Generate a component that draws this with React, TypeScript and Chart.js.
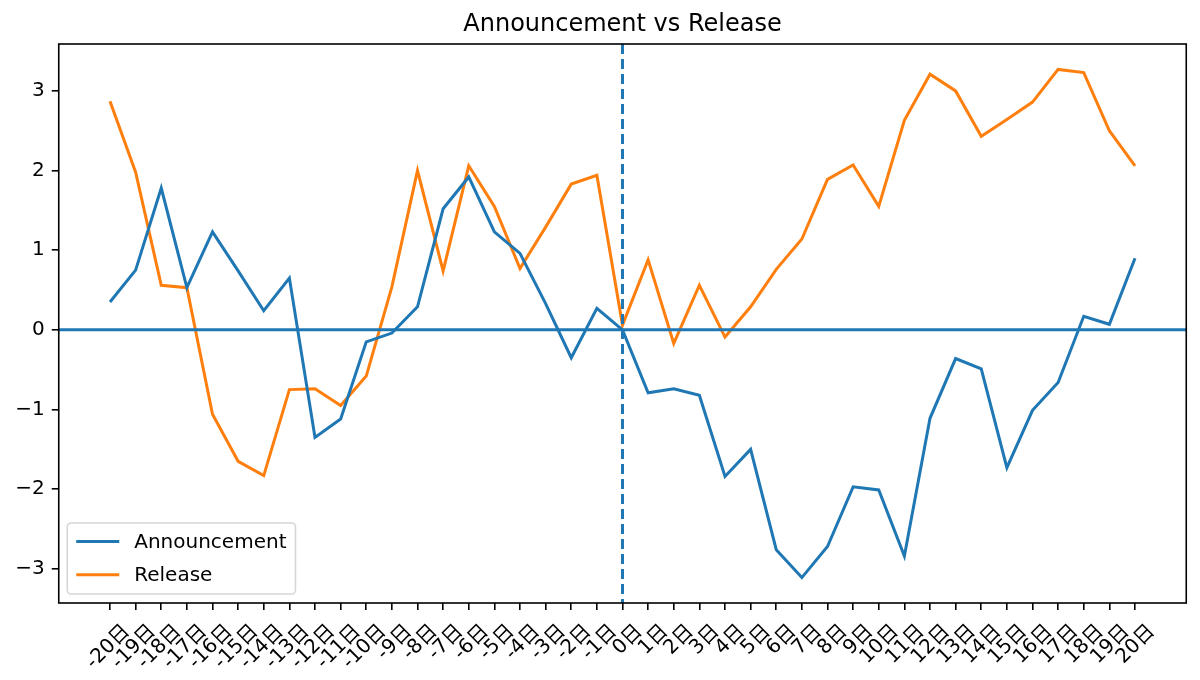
import {useEffect, useRef} from "react";
import {Chart, registerables} from "chart.js";

Chart.register(...registerables)

const days = [-20, -19, -18, -17, -16, -15, -14, -13, -12, -11, -10, -9, -8, -7, -6, -5, -4, -3, -2, -1,
  0, 1, 2, 3, 4, 5, 6, 7, 8, 9, 10, 11, 12, 13, 14, 15, 16, 17, 18, 19, 20]
const dayLabels = days.map(d => `${d}日`)
const yTicks = [-3, -2, -1, 0, 1, 2, 3]

const announcement = [0.35, 0.75, 1.78, 0.53, 1.23, 0.74, 0.24, 0.65, -1.35, -1.12,
  -0.15, -0.04, 0.29, 1.52, 1.92, 1.23, 0.96, 0.33, -0.35, 0.27,
  0.0,
  -0.79, -0.74, -0.82, -1.84, -1.50, -2.76, -3.11, -2.72, -1.97, -2.01,
  -2.84, -1.11, -0.36, -0.49, -1.73, -1.01, -0.66, 0.17, 0.07, 0.90]

const release = [2.87, 1.98, 0.56, 0.53, -1.06, -1.65, -1.83, -0.75, -0.74, -0.95,
  -0.58, 0.54, 2.00, 0.74, 2.06, 1.55, 0.77, 1.29, 1.83, 1.94,
  0.06,
  0.88, -0.17, 0.56, -0.09, 0.29, 0.76, 1.14, 1.89, 2.07, 1.55,
  2.63, 3.21, 3.00, 2.43, 2.64, 2.86, 3.27, 3.23, 2.50, 2.06]

const BLUE = "#1f77b4"
const ORANGE = "#ff7f0e"
const FONT = "'DejaVu Sans', 'Noto Sans CJK SC', sans-serif"

// matplotlib style 5% margins
const all = [...announcement, ...release]
const yLo = Math.min(...all), yHi = Math.max(...all)
const yPad = (yHi - yLo) * 0.05
const xPad = (days[days.length - 1] - days[0]) * 0.05

const frame = {
  id: "frame",
  afterDatasetsDraw(chart: Chart) {
    const {ctx, chartArea: a, scales} = chart
    const y0 = scales.y.getPixelForValue(0)
    const x0 = scales.x.getPixelForValue(0)
    ctx.save()
    ctx.strokeStyle = BLUE
    ctx.lineWidth = 3
    ctx.beginPath()
    ctx.moveTo(a.left, y0)
    ctx.lineTo(a.right, y0)
    ctx.stroke()
    ctx.setLineDash([10, 5])
    ctx.beginPath()
    ctx.moveTo(x0, a.top)
    ctx.lineTo(x0, a.bottom)
    ctx.stroke()
    ctx.setLineDash([])
    ctx.strokeStyle = "#000"
    ctx.lineWidth = 1.6
    ctx.strokeRect(a.left, a.top, a.right - a.left, a.bottom - a.top)

    // legend, lower left
    ctx.font = `20px ${FONT}`
    const items = chart.data.datasets
    const textW = Math.max(...items.map(d => ctx.measureText(d.label as string).width))
    const bw = 8 + 42 + 16 + textW + 10
    const bh = 71
    const bx = a.left + 8.5
    const by = a.bottom - 9 - bh
    ctx.fillStyle = "rgba(255,255,255,0.8)"
    ctx.strokeStyle = "rgba(204,204,204,0.8)"
    ctx.lineWidth = 1.6
    ctx.beginPath()
    ctx.roundRect(bx, by, bw, bh, 4)
    ctx.fill()
    ctx.stroke()
    items.forEach((d, i) => {
      const ly = by + 18.5 + i * 33.3
      ctx.strokeStyle = d.borderColor as string
      ctx.lineWidth = 3
      ctx.beginPath()
      ctx.moveTo(bx + 9, ly)
      ctx.lineTo(bx + 52, ly)
      ctx.stroke()
      ctx.fillStyle = "#000"
      ctx.textBaseline = "middle"
      ctx.textAlign = "left"
      ctx.fillText(d.label as string, bx + 67, ly + 1.3)
    })
    ctx.restore()
  }
}

export default () => {
  const canvas = useRef<HTMLCanvasElement>(null)

  useEffect(() => {
    document.body.style.margin = "0"
    const chart = new Chart(canvas.current!, {
      type: "line",
      data: {
        datasets: [{
          label: "Announcement",
          data: days.map((d, i) => ({x: d, y: announcement[i]})),
          borderColor: BLUE,
          backgroundColor: BLUE,
          borderWidth: 3,
          pointRadius: 0,
          tension: 0,
        }, {
          label: "Release",
          data: days.map((d, i) => ({x: d, y: release[i]})),
          borderColor: ORANGE,
          backgroundColor: ORANGE,
          borderWidth: 3,
          pointRadius: 0,
          tension: 0,
        }]
      },
      options: {
        animation: false,
        responsive: false,
        layout: {padding: {left: 0, right: 13.75, top: 0, bottom: 0}},
        plugins: {
          legend: {display: false},
          tooltip: {enabled: false},
          title: {
            display: true,
            text: "Announcement vs Release",
            fullSize: false,
            color: "#000",
            font: {family: FONT, size: 24, weight: "normal", lineHeight: 1.2},
            padding: {top: 10.6, bottom: 4.6},
          }
        },
        scales: {
          x: {
            type: "linear",
            min: days[0] - xPad,
            max: days[days.length - 1] + xPad,
            afterBuildTicks: (s: any) => { s.ticks = days.map(v => ({value: v})) },
            afterFit: (s: any) => { s.height = 77 },
            border: {display: false},
            grid: {drawOnChartArea: false, drawTicks: true, tickLength: 7, color: "#000", lineWidth: 1.6},
            ticks: {
              autoSkip: false,
              maxRotation: 45,
              minRotation: 45,
              padding: 10,
              labelOffset: 17,
              color: "#000",
              font: {family: FONT, size: 20},
              callback: (_v: any, i: number) => dayLabels[i],
            }
          },
          y: {
            min: yLo - yPad,
            max: yHi + yPad,
            afterBuildTicks: (s: any) => { s.ticks = yTicks.map(v => ({value: v})) },
            afterFit: (s: any) => { s.width = 58.75 },
            border: {display: false},
            grid: {drawOnChartArea: false, drawTicks: true, tickLength: 7, color: "#000", lineWidth: 1.6},
            ticks: {
              padding: 7,
              color: "#000",
              font: {family: FONT, size: 20},
              callback: (v: any) => v < 0 ? `\u2212${Math.abs(v)}` : `${v}`,
            }
          }
        }
      },
      plugins: [frame]
    })
    return () => chart.destroy()
  }, [])

  return (
    <div style={{width: 1200, height: 680}}>
      <canvas ref={canvas} width={1200} height={680} style={{width: 1200, height: 680}}/>
    </div>
  )
}
